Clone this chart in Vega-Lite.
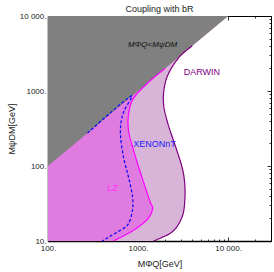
{
  "$schema": "https://vega.github.io/schema/vega-lite/v6.json",
  "autosize": "none",
  "width": 223,
  "height": 225,
  "padding": {"left": 48, "top": 16, "right": 3, "bottom": 31},
  "background": "white",
  "config": {
    "view": {"stroke": "black", "strokeWidth": 1},
    "font": "Liberation Sans"
  },
  "title": {"text": "Coupling with bR", "fontSize": 9, "fontWeight": "normal", "font": "Liberation Sans", "color": "#222", "offset": -2, "anchor": "middle"},
  "datasets": {
    "fills": [
      {"r": "DARWIN", "x": 1490, "y": 10},
      {"r": "DARWIN", "x": 1783, "y": 10.96},
      {"r": "DARWIN", "x": 2306, "y": 12.8},
      {"r": "DARWIN", "x": 2692, "y": 15.4},
      {"r": "DARWIN", "x": 3140, "y": 22.2},
      {"r": "DARWIN", "x": 3310, "y": 35.2},
      {"r": "DARWIN", "x": 3310, "y": 55.8},
      {"r": "DARWIN", "x": 3140, "y": 88.4},
      {"r": "DARWIN", "x": 2692, "y": 163},
      {"r": "DARWIN", "x": 2138, "y": 374},
      {"r": "DARWIN", "x": 1927, "y": 650},
      {"r": "DARWIN", "x": 1927, "y": 970},
      {"r": "DARWIN", "x": 2080, "y": 1490},
      {"r": "DARWIN", "x": 2428, "y": 2155},
      {"r": "DARWIN", "x": 3000, "y": 3000},
      {"r": "DARWIN", "x": 4000, "y": 4000},
      {"r": "DARWIN", "x": 10000, "y": 10000},
      {"r": "LZ", "x": 532, "y": 10},
      {"r": "LZ", "x": 689, "y": 11.7},
      {"r": "LZ", "x": 937, "y": 14.5},
      {"r": "LZ", "x": 1309, "y": 20.3},
      {"r": "LZ", "x": 1453, "y": 27.5},
      {"r": "LZ", "x": 1380, "y": 32.1},
      {"r": "LZ", "x": 1067, "y": 80.7},
      {"r": "LZ", "x": 891, "y": 163},
      {"r": "LZ", "x": 783, "y": 302},
      {"r": "LZ", "x": 783, "y": 479},
      {"r": "LZ", "x": 869, "y": 759},
      {"r": "LZ", "x": 1300, "y": 1300},
      {"r": "LZ", "x": 2000, "y": 2000},
      {"r": "LZ", "x": 10000, "y": 10000},
      {"r": "excl", "x": 100, "y": 100},
      {"r": "excl", "x": 10000, "y": 10000}
    ],
    "lines": [
      {"s": "D", "i": 0, "x": 4000, "y": 4000},
      {"s": "D", "i": 1, "x": 3000, "y": 3000},
      {"s": "D", "i": 2, "x": 2428, "y": 2155},
      {"s": "D", "i": 3, "x": 2080, "y": 1490},
      {"s": "D", "i": 4, "x": 1927, "y": 970},
      {"s": "D", "i": 5, "x": 1927, "y": 650},
      {"s": "D", "i": 6, "x": 2138, "y": 374},
      {"s": "D", "i": 7, "x": 2692, "y": 163},
      {"s": "D", "i": 8, "x": 3140, "y": 88.4},
      {"s": "D", "i": 9, "x": 3310, "y": 55.8},
      {"s": "D", "i": 10, "x": 3310, "y": 35.2},
      {"s": "D", "i": 11, "x": 3140, "y": 22.2},
      {"s": "D", "i": 12, "x": 2692, "y": 15.4},
      {"s": "D", "i": 13, "x": 2306, "y": 12.8},
      {"s": "D", "i": 14, "x": 1783, "y": 10.96},
      {"s": "D", "i": 15, "x": 1490, "y": 10},
      {"s": "L", "i": 0, "x": 2000, "y": 2000},
      {"s": "L", "i": 1, "x": 1300, "y": 1300},
      {"s": "L", "i": 2, "x": 869, "y": 759},
      {"s": "L", "i": 3, "x": 783, "y": 479},
      {"s": "L", "i": 4, "x": 783, "y": 302},
      {"s": "L", "i": 5, "x": 891, "y": 163},
      {"s": "L", "i": 6, "x": 1067, "y": 80.7},
      {"s": "L", "i": 7, "x": 1380, "y": 32.1},
      {"s": "L", "i": 8, "x": 1453, "y": 27.5},
      {"s": "L", "i": 9, "x": 1309, "y": 20.3},
      {"s": "L", "i": 10, "x": 937, "y": 14.5},
      {"s": "L", "i": 11, "x": 689, "y": 11.7},
      {"s": "L", "i": 12, "x": 532, "y": 10},
      {"s": "X", "i": 0, "x": 275, "y": 275},
      {"s": "X", "i": 1, "x": 858, "y": 858},
      {"s": "X", "i": 2, "x": 706, "y": 558},
      {"s": "X", "i": 3, "x": 654, "y": 410},
      {"s": "X", "i": 4, "x": 637, "y": 275},
      {"s": "X", "i": 5, "x": 689, "y": 132},
      {"s": "X", "i": 6, "x": 783, "y": 71.3},
      {"s": "X", "i": 7, "x": 869, "y": 38.6},
      {"s": "X", "i": 8, "x": 869, "y": 25.9},
      {"s": "X", "i": 9, "x": 764, "y": 16.3},
      {"s": "X", "i": 10, "x": 590, "y": 13.2},
      {"s": "X", "i": 11, "x": 456, "y": 11},
      {"s": "X", "i": 12, "x": 401, "y": 10}
    ],
    "labels": [
      {"t": "MΦQ<MψDM", "x": 1452, "y": 4105},
      {"t": "DARWIN", "x": 5120, "y": 1792},
      {"t": "XENONnT", "x": 1528, "y": 199.5},
      {"t": "LZ", "x": 519, "y": 50.9}
    ]
  },
  "resolve": {"axis": {"x": "independent", "y": "independent"}, "scale": {"color": "independent"}},
  "layer": [
    {
      "data": {"name": "fills"},
      "transform": [{"filter": "datum.r == 'DARWIN'"}],
      "mark": {"type": "area", "orient": "horizontal", "interpolate": "catmull-rom", "color": "#d8b4d8", "clip": true},
      "encoding": {
        "y": {"field": "y", "type": "quantitative", "scale": {"type": "log", "domain": [10, 10000], "nice": false},
          "axis": {"orient": "left", "values": [10,20,30,40,50,60,70,80,90,100,200,300,400,500,600,700,800,900,1000,2000,3000,4000,5000,6000,7000,8000,9000,10000],
            "labelExpr": "datum.value==10?'10.':datum.value==100?'100.':datum.value==1000?'1000.':datum.value==10000?'10 000.':''",
            "tickSize": {"condition": {"test": "indexof([10,100,1000,10000],datum.value)>=0", "value": -4}, "value": -2},
            "tickColor": "black", "tickWidth": 0.8, "domainColor": "black", "domainWidth": 1.5, "grid": false,
            "labelFont": "Liberation Sans", "labelFontSize": 8, "labelColor": "#222", "labelPadding": 6,
            "labelOverlap": false, "labelFlush": false, "labelBound": false,
            "title": "MψDM[GeV]", "titleFont": "Liberation Sans", "titleFontSize": 9, "titleFontWeight": "normal", "titleColor": "#222", "titlePadding": 3}},
        "x": {"field": "x", "type": "quantitative", "scale": {"type": "log", "domain": [100, 30000], "nice": false},
          "axis": {"orient": "bottom", "values": [100,200,300,400,500,600,700,800,900,1000,2000,3000,4000,5000,6000,7000,8000,9000,10000,20000,30000],
            "labelExpr": "datum.value==100?'100.':datum.value==1000?'1000.':datum.value==10000?'10 000.':''",
            "tickSize": {"condition": {"test": "indexof([100,1000,10000],datum.value)>=0", "value": -4}, "value": -2},
            "tickColor": "black", "tickWidth": 0.8, "domainColor": "black", "domainWidth": 1.5, "grid": false,
            "labelFont": "Liberation Sans", "labelFontSize": 8, "labelColor": "#222", "labelPadding": 7,
            "labelOverlap": false, "labelFlush": false, "labelBound": false,
            "title": "MΦQ[GeV]", "titleFont": "Liberation Sans", "titleFontSize": 9, "titleFontWeight": "normal", "titleColor": "#222", "titlePadding": 5}},
        "x2": {"datum": 100}
      }
    },
    {
      "data": {"name": "fills"},
      "transform": [{"filter": "datum.r == 'LZ'"}],
      "mark": {"type": "area", "orient": "horizontal", "interpolate": "catmull-rom", "color": "#e07be0", "clip": true},
      "encoding": {
        "y": {"field": "y", "type": "quantitative",
          "axis": {"orient": "right", "values": [10,20,30,40,50,60,70,80,90,100,200,300,400,500,600,700,800,900,1000,2000,3000,4000,5000,6000,7000,8000,9000,10000],
            "labels": false, "title": null, "grid": false, "domain": false,
            "tickSize": {"condition": {"test": "indexof([10,100,1000,10000],datum.value)>=0", "value": -4}, "value": -2},
            "tickColor": "black", "tickWidth": 0.8}},
        "x": {"field": "x", "type": "quantitative",
          "axis": {"orient": "top", "values": [100,200,300,400,500,600,700,800,900,1000,2000,3000,4000,5000,6000,7000,8000,9000,10000,20000,30000],
            "labels": false, "title": null, "grid": false, "domain": false,
            "tickSize": {"condition": {"test": "indexof([100,1000,10000],datum.value)>=0", "value": -4}, "value": -2},
            "tickColor": "black", "tickWidth": 0.8}},
        "x2": {"datum": 100}
      }
    },
    {
      "data": {"name": "fills"},
      "transform": [{"filter": "datum.r == 'excl'"}],
      "mark": {"type": "area", "orient": "horizontal", "color": "#808080", "clip": true},
      "encoding": {
        "y": {"field": "y", "type": "quantitative", "axis": null},
        "x": {"field": "x", "type": "quantitative", "axis": null},
        "x2": {"datum": 100}
      }
    },
    {
      "data": {"name": "lines"},
      "mark": {"type": "line", "interpolate": "catmull-rom", "strokeWidth": 1.2, "clip": true},
      "encoding": {
        "y": {"field": "y", "type": "quantitative", "axis": null},
        "x": {"field": "x", "type": "quantitative", "axis": null},
        "order": {"field": "i", "type": "quantitative"},
        "color": {"field": "s", "type": "nominal", "scale": {"domain": ["D", "L", "X"], "range": ["#800080", "#ff00ff", "#0000ff"]}, "legend": null},
        "strokeDash": {"field": "s", "type": "nominal", "scale": {"domain": ["D", "L", "X"], "range": [[1, 0], [1, 0], [3, 2]]}, "legend": null}
      }
    },
    {
      "data": {"name": "labels"},
      "transform": [{"filter": "datum.t == 'MΦQ<MψDM'"}],
      "mark": {"type": "text", "font": "Liberation Sans", "fontSize": 8, "fontStyle": "italic", "align": "center", "baseline": "middle", "color": "#111111"},
      "encoding": {
        "y": {"field": "y", "type": "quantitative", "axis": null},
        "x": {"field": "x", "type": "quantitative", "axis": null},
        "text": {"field": "t", "type": "nominal"}
      }
    },
    {
      "data": {"name": "labels"},
      "transform": [{"filter": "datum.t == 'DARWIN'"}],
      "mark": {"type": "text", "font": "Liberation Sans", "fontSize": 9, "align": "center", "baseline": "middle", "color": "#800080"},
      "encoding": {
        "y": {"field": "y", "type": "quantitative", "axis": null},
        "x": {"field": "x", "type": "quantitative", "axis": null},
        "text": {"field": "t", "type": "nominal"}
      }
    },
    {
      "data": {"name": "labels"},
      "transform": [{"filter": "datum.t == 'XENONnT'"}],
      "mark": {"type": "text", "font": "Liberation Sans", "fontSize": 9, "align": "center", "baseline": "middle", "color": "#2020ff"},
      "encoding": {
        "y": {"field": "y", "type": "quantitative", "axis": null},
        "x": {"field": "x", "type": "quantitative", "axis": null},
        "text": {"field": "t", "type": "nominal"}
      }
    },
    {
      "data": {"name": "labels"},
      "transform": [{"filter": "datum.t == 'LZ'"}],
      "mark": {"type": "text", "font": "Liberation Sans", "fontSize": 9, "align": "center", "baseline": "middle", "color": "#ff30ff"},
      "encoding": {
        "y": {"field": "y", "type": "quantitative", "axis": null},
        "x": {"field": "x", "type": "quantitative", "axis": null},
        "text": {"field": "t", "type": "nominal"}
      }
    }
  ]
}
